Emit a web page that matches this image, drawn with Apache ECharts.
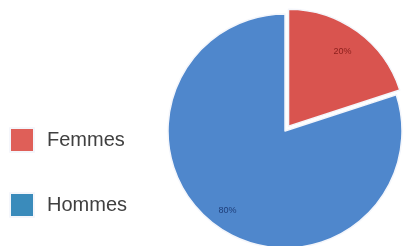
<!DOCTYPE html>
<html>
<head>
<meta charset="utf-8">
<script src="https://cdn.jsdelivr.net/npm/echarts@6/dist/echarts.min.js"></script>
<style>
  html, body { margin: 0; padding: 0; background: #fff; }
  #chart { width: 409px; height: 246px; }
</style>
</head>
<body>
<div id="chart"></div>
<script>
const categories = ['Femmes', 'Hommes']
const values = [20, 80]
const sliceColors = ['#d9544f', '#4f87cc']
const legendColors = ['#df5f58', '#3a8bbb']
const labelColors = ['#8a1f1c', '#1f3f7a']

const chart = echarts.init(document.getElementById('chart'))

chart.setOption({
  animation: false,
  legend: {
    orient: 'vertical',
    left: 9,
    top: 127,
    padding: 0,
    itemWidth: 24,
    itemHeight: 24,
    itemGap: 39,
    icon: 'rect',
    selectedMode: false,
    textStyle: { fontSize: 20, color: '#404040', fontFamily: 'Liberation Sans, Arial', padding: [0, 0, 0, 8] },
    data: categories.map((name, i) => ({ name, itemStyle: { color: legendColors[i] } }))
  },
  series: [
    {
      type: 'pie',
      z: 2,
      center: [285, 131],
      radius: [0, 117],
      startAngle: 90,
      clockwise: true,
      selectedMode: 'single',
      selectedOffset: 6,
      silent: true,
      label: { show: false },
      labelLine: { show: false },
      itemStyle: { borderColor: '#f4f6fb', borderWidth: 1.5 },
      data: categories.map((name, i) => ({
        name,
        value: values[i],
        selected: i === 0,
        itemStyle: { color: sliceColors[i] },
        select: { itemStyle: { color: sliceColors[i], borderColor: '#f4f6fb', borderWidth: 1.5 } }
      }))
    },
    {
      // transparent ring only used to place the percent labels
      type: 'pie',
      z: 5,
      center: [285, 131],
      radius: [78, 112],
      startAngle: 90,
      clockwise: true,
      silent: true,
      legendHoverLink: false,
      itemStyle: { color: 'rgba(0,0,0,0)' },
      labelLine: { show: false },
      label: {
        show: true,
        position: 'inside',
        fontSize: 9,
        fontFamily: 'Liberation Sans, Arial',
        formatter: p => p.value + '%'
      },
      data: categories.map((name, i) => ({
        name: name + ' ',
        value: values[i],
        label: { color: labelColors[i] }
      }))
    }
  ]
})
</script>
</body>
</html>
